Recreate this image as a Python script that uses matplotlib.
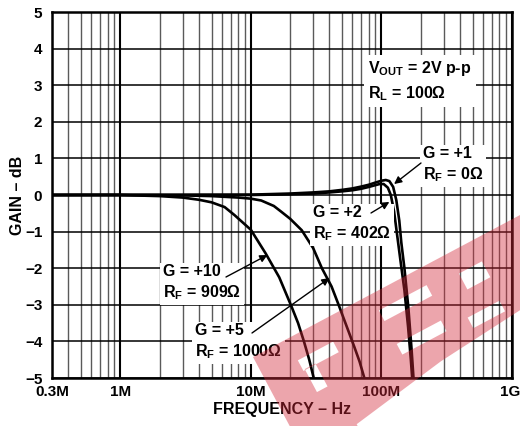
import numpy as np
import matplotlib
matplotlib.use("Agg")
import matplotlib.pyplot as plt
import matplotlib.transforms as mtransforms
from matplotlib.path import Path
from matplotlib.patches import PathPatch
from matplotlib.ticker import FixedLocator, FixedFormatter, LogLocator, NullFormatter

plt.rcParams['font.family'] = ['Liberation Sans', 'DejaVu Sans']
plt.rcParams['font.weight'] = 'bold'
plt.rcParams['mathtext.fontset'] = 'custom'
plt.rcParams['mathtext.rm'] = 'Liberation Sans:bold'
plt.rcParams['mathtext.it'] = 'Liberation Sans:bold'
plt.rcParams['mathtext.bf'] = 'Liberation Sans:bold'

# frequency response curves, freq in MHz, gain in dB
f_g1 = [0.3, 10, 20, 30, 40, 50, 60, 70, 80, 90, 100, 108, 115, 123, 130, 137, 142, 150, 161, 170, 176]
gain_g1 = [0, 0.01, 0.04, 0.07, 0.1, 0.14, 0.18, 0.23, 0.28, 0.34, 0.39, 0.41, 0.38, 0.22, -0.14,
           -0.7, -1.3, -2.0, -3.1, -4.2, -5.0]

f_g2 = [0.3, 10, 20, 30, 40, 50, 60, 70, 80, 90, 97, 104, 112, 118, 125, 132, 140, 150, 160, 168, 172]
gain_g2 = [0, 0, 0.02, 0.04, 0.07, 0.1, 0.13, 0.17, 0.22, 0.27, 0.3, 0.3, 0.2, 0.0, -0.45,
           -1.1, -1.8, -2.6, -3.6, -4.5, -5.0]

f_g5 = [0.3, 1, 3, 5, 8, 10, 12, 15, 17, 20, 24.5, 30, 35, 41.5, 47, 52, 57, 62, 68, 74]
gain_g5 = [0, 0, -0.01, -0.03, -0.07, -0.1, -0.15, -0.3, -0.45, -0.65, -0.96, -1.45, -2.0,
           -2.5, -3.0, -3.42, -3.8, -4.15, -4.55, -5.0]

f_g10 = [0.3, 1, 2, 3, 4, 5, 6.3, 7.5, 10, 13, 16.5, 20.5, 23, 25.5, 28, 30.3]
gain_g10 = [0, 0, -0.03, -0.07, -0.13, -0.2, -0.33, -0.55, -0.95, -1.6, -2.25, -3.05, -3.5,
            -4.0, -4.5, -5.0]

xtick_vals = [0.3e6, 1e6, 1e7, 1e8, 1e9]
xtick_labels = ['0.3M', '1M', '10M', '100M', '1G']
ytick_vals = list(range(-5, 6))
ytick_labels = [str(v).replace('-', '\u2212') for v in ytick_vals]

W, H = 520, 426
fig = plt.figure(figsize=(W / 100, H / 100), dpi=100)
ax = fig.add_axes([52 / W, 1 - 378 / H, 460 / W, 366 / H])

for f, g in [(f_g10, gain_g10), (f_g5, gain_g5), (f_g2, gain_g2), (f_g1, gain_g1)]:
    ax.plot(np.array(f) * 1e6, g, color='black', lw=1.9, zorder=3, solid_capstyle='butt')

ax.set_xscale('log')
ax.set_xlim(0.3e6, 1e9)
ax.set_ylim(-5, 5)
ax.xaxis.set_major_locator(FixedLocator(xtick_vals))
ax.xaxis.set_major_formatter(FixedFormatter(xtick_labels))
ax.xaxis.set_minor_locator(LogLocator(base=10, subs=np.arange(2, 10)))
ax.xaxis.set_minor_formatter(NullFormatter())
ax.yaxis.set_major_locator(FixedLocator(ytick_vals))
ax.yaxis.set_major_formatter(FixedFormatter(ytick_labels))

ax.grid(axis='x', which='minor', color='#5a5a5a', lw=1.0)
ax.grid(axis='x', which='major', color='black', lw=1.5)
ax.grid(axis='y', which='major', color='black', lw=1.1)
ax.set_axisbelow(True)
ax.tick_params(which='both', length=0, labelsize=11)
ax.tick_params(axis='y', pad=7)
ax.tick_params(axis='x', pad=5)
for s in ax.spines.values():
    s.set_linewidth(1.8)

# last tick label sits at the right edge of the picture
last = ax.get_xticklabels()[-1]
last.set_horizontalalignment('right')
last.set_transform(last.get_transform() + mtransforms.ScaledTranslation(8 / 100, 0, fig.dpi_scale_trans))

ax.set_xlabel('FREQUENCY \u2013 Hz', fontsize=11.5, fontweight='bold', labelpad=2)
ax.set_ylabel('GAIN \u2013 dB', fontsize=11.5, fontweight='bold', labelpad=0)


def px(x, y):
    # image pixel -> axes fraction
    return ((x - 52) / 460, (378 - y) / 366)


fs = 11.5

ax.text(*px(368, 81), 'V$_\\mathrm{OUT}$ = 2V p-p\nR$_\\mathrm{L}$ = 100\u03a9', transform=ax.transAxes,
        fontsize=fs, ha='left', va='center', linespacing=1.4,
        bbox=dict(facecolor='white', edgecolor='none', pad=3), zorder=4)

labels = [
    ('G = +1', 'R$_\\mathrm{F}$ = 0\u03a9', (423, 165), (125e6, 0.3)),
    ('G = +2', 'R$_\\mathrm{F}$ = 402\u03a9', (313, 224), (115e6, -0.19)),
    ('G = +10', 'R$_\\mathrm{F}$ = 909\u03a9', (163, 283), (13.4e6, -1.64)),
    ('G = +5', 'R$_\\mathrm{F}$ = 1000\u03a9', (195, 342), (40e6, -2.27)),
]
tails = [(421, 163), (371, 213), (226, 277), (252, 333)]

for (l1, l2, pos, tip), tail in zip(labels, tails):
    ax.text(*px(*pos), l1 + '\n' + l2, transform=ax.transAxes, fontsize=fs,
            ha='left', va='center', linespacing=1.3,
            bbox=dict(facecolor='white', edgecolor='none', pad=2), zorder=4)
    ax.annotate('', xy=tip, xycoords='data', xytext=px(*tail), textcoords='axes fraction',
                arrowprops=dict(arrowstyle='-|>', color='black', lw=1.0,
                                mutation_scale=11, shrinkA=0, shrinkB=0), zorder=5)

# red watermark band (image px, rotated)
ang = np.deg2rad(28)
o = np.array([253.0, 357.0])
uh = np.array([np.cos(ang), -np.sin(ang)])
vh = np.array([np.sin(ang), np.cos(ang)])


def to_fig(pts):
    out = []
    for u, v in pts:
        p = o + u * uh + v * vh
        out.append((p[0] / W, 1 - p[1] / H))
    return out


def rect(uc, vc, L, t):
    pts = [(uc - L / 2, vc - t / 2), (uc + L / 2, vc - t / 2),
           (uc + L / 2, vc + t / 2), (uc - L / 2, vc + t / 2)]
    return pts[::-1]


outer = [(0, 0), (340, 0), (340, 80), (258, 84), (164, 92), (60, 108), (60, 160), (0, 160)]
holes = [rect(58, 30, 40, 12), rect(46, 48, 12, 26), rect(160, 24, 54, 12),
         rect(158, 62, 50, 12), rect(234, 32, 26, 18), rect(226, 72, 36, 12)]

verts, codes = [], []
for poly in [outer] + holes:
    fp = to_fig(poly)
    verts += fp + [fp[0]]
    codes += [Path.MOVETO] + [Path.LINETO] * (len(fp) - 1) + [Path.CLOSEPOLY]
wm = PathPatch(Path(verts, codes), transform=fig.transFigure, facecolor='#d42a3a',
               edgecolor='none', alpha=0.42, zorder=10)
fig.patches.append(wm)

fig.savefig('out.png', dpi=100)
